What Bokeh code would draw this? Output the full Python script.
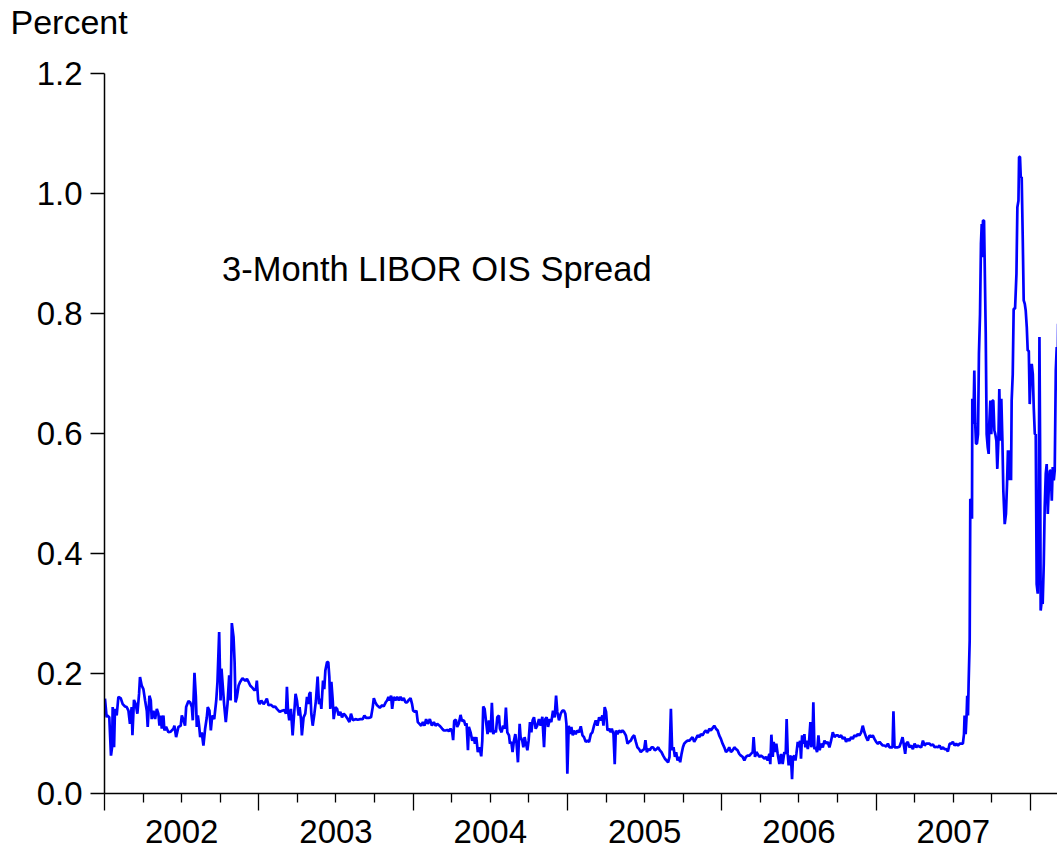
from bokeh.plotting import figure
from bokeh.models import Range1d, FixedTicker, LinearAxis, Label, NumeralTickFormatter
from bokeh.embed import file_html
from bokeh.resources import INLINE

# ---- data: 3-month LIBOR-OIS spread (percent), time in decimal years ----
t_2002 = [2002.003, 2002.014, 2002.018, 2002.031, 2002.042, 2002.049, 2002.053, 2002.062, 2002.068, 2002.079,
          2002.090, 2002.105, 2002.118, 2002.133, 2002.144, 2002.155, 2002.165, 2002.176, 2002.181, 2002.191,
          2002.202, 2002.213, 2002.224, 2002.230, 2002.241, 2002.252, 2002.263, 2002.274, 2002.280, 2002.291,
          2002.300, 2002.306, 2002.317, 2002.328, 2002.339, 2002.349, 2002.356, 2002.364, 2002.371, 2002.382,
          2002.388, 2002.399, 2002.414, 2002.429, 2002.447, 2002.453, 2002.464, 2002.479, 2002.494, 2002.501,
          2002.512, 2002.522, 2002.529, 2002.544, 2002.555, 2002.566, 2002.572, 2002.583, 2002.592, 2002.598,
          2002.605, 2002.613, 2002.620, 2002.630, 2002.641, 2002.652, 2002.663, 2002.669, 2002.680, 2002.689,
          2002.698, 2002.711, 2002.724, 2002.732, 2002.743, 2002.752, 2002.758, 2002.767, 2002.775, 2002.786,
          2002.797, 2002.808, 2002.817, 2002.825, 2002.836, 2002.843, 2002.849, 2002.858, 2002.869, 2002.879,
          2002.894, 2002.912, 2002.923, 2002.933, 2002.944, 2002.959, 2002.972, 2002.981, 2002.987, 2002.996,
          2003.005, 2003.016, 2003.031, 2003.042, 2003.052, 2003.063, 2003.078, 2003.091]
v_2002 = [0.158, 0.127, 0.130, 0.127, 0.063, 0.077, 0.144, 0.077, 0.141, 0.130,
          0.161, 0.159, 0.149, 0.145, 0.144, 0.138, 0.116, 0.144, 0.097, 0.156,
          0.149, 0.133, 0.166, 0.194, 0.180, 0.174, 0.155, 0.138, 0.111, 0.163,
          0.155, 0.124, 0.138, 0.124, 0.141, 0.133, 0.113, 0.130, 0.108, 0.130,
          0.105, 0.111, 0.102, 0.103, 0.108, 0.113, 0.094, 0.111, 0.113, 0.130,
          0.122, 0.113, 0.144, 0.154, 0.152, 0.144, 0.122, 0.201, 0.161, 0.111,
          0.130, 0.113, 0.094, 0.102, 0.080, 0.108, 0.127, 0.144, 0.138, 0.105,
          0.130, 0.124, 0.155, 0.186, 0.269, 0.155, 0.208, 0.177, 0.149, 0.119,
          0.149, 0.197, 0.155, 0.284, 0.261, 0.219, 0.152, 0.161, 0.180, 0.186,
          0.192, 0.188, 0.191, 0.186, 0.180, 0.176, 0.172, 0.174, 0.188, 0.155,
          0.149, 0.155, 0.149, 0.153, 0.158, 0.147, 0.148, 0.145]

t_2003 = [2003.096, 2003.106, 2003.117, 2003.135, 2003.150, 2003.165, 2003.176, 2003.182, 2003.189, 2003.197,
          2003.208, 2003.219, 2003.228, 2003.238, 2003.247, 2003.258, 2003.264, 2003.273, 2003.279, 2003.290,
          2003.301, 2003.312, 2003.321, 2003.327, 2003.334, 2003.340, 2003.349, 2003.360, 2003.370, 2003.381,
          2003.390, 2003.398, 2003.405, 2003.416, 2003.424, 2003.431, 2003.442, 2003.450, 2003.457, 2003.463,
          2003.470, 2003.479, 2003.485, 2003.496, 2003.507, 2003.517, 2003.528, 2003.539, 2003.550, 2003.561,
          2003.576, 2003.587, 2003.597, 2003.610, 2003.626, 2003.641, 2003.658, 2003.673, 2003.684, 2003.695,
          2003.712, 2003.727, 2003.738, 2003.745, 2003.755, 2003.766, 2003.784, 2003.799, 2003.809, 2003.822,
          2003.831, 2003.840, 2003.848, 2003.857, 2003.864, 2003.874, 2003.885, 2003.896, 2003.907, 2003.918,
          2003.928, 2003.939, 2003.950, 2003.961, 2003.972, 2003.983, 2003.993, 2004.000, 2004.011, 2004.021,
          2004.030, 2004.041, 2004.052, 2004.063, 2004.073, 2004.084, 2004.095, 2004.108, 2004.121, 2004.134,
          2004.145, 2004.156, 2004.171]
v_2003 = [0.144, 0.145, 0.141, 0.136, 0.138, 0.139, 0.133, 0.178, 0.138, 0.122,
          0.141, 0.097, 0.130, 0.166, 0.155, 0.130, 0.144, 0.124, 0.097, 0.127,
          0.133, 0.161, 0.149, 0.166, 0.169, 0.133, 0.113, 0.133, 0.155, 0.195,
          0.149, 0.158, 0.141, 0.188, 0.174, 0.205, 0.219, 0.219, 0.194, 0.141,
          0.186, 0.155, 0.124, 0.144, 0.141, 0.130, 0.136, 0.127, 0.133, 0.130,
          0.124, 0.119, 0.133, 0.122, 0.124, 0.123, 0.124, 0.124, 0.130, 0.126,
          0.126, 0.127, 0.144, 0.159, 0.152, 0.147, 0.143, 0.147, 0.145, 0.152,
          0.155, 0.161, 0.155, 0.163, 0.141, 0.161, 0.155, 0.161, 0.155, 0.161,
          0.155, 0.159, 0.152, 0.152, 0.156, 0.159, 0.149, 0.138, 0.136, 0.138,
          0.119, 0.116, 0.113, 0.119, 0.113, 0.124, 0.116, 0.124, 0.113, 0.119,
          0.113, 0.116, 0.113]

t_2004 = [2004.188, 2004.199, 2004.210, 2004.221, 2004.231, 2004.242, 2004.253, 2004.259, 2004.266, 2004.277,
          2004.285, 2004.296, 2004.307, 2004.316, 2004.329, 2004.339, 2004.346, 2004.355, 2004.361, 2004.372,
          2004.383, 2004.394, 2004.400, 2004.409, 2004.419, 2004.430, 2004.441, 2004.448, 2004.454, 2004.463,
          2004.474, 2004.482, 2004.491, 2004.502, 2004.510, 2004.519, 2004.528, 2004.536, 2004.545, 2004.556,
          2004.562, 2004.573, 2004.582, 2004.593, 2004.601, 2004.610, 2004.621, 2004.627, 2004.636, 2004.644,
          2004.653, 2004.662, 2004.670, 2004.679, 2004.690, 2004.696, 2004.707, 2004.714, 2004.722, 2004.731,
          2004.740, 2004.748, 2004.757, 2004.766, 2004.774, 2004.783, 2004.794, 2004.804, 2004.815, 2004.826,
          2004.837, 2004.848, 2004.856, 2004.865, 2004.874, 2004.885, 2004.895, 2004.906, 2004.917, 2004.926,
          2004.934, 2004.945, 2004.956, 2004.967, 2004.978, 2004.986, 2004.993, 2004.999, 2005.008, 2005.017,
          2005.025, 2005.034, 2005.042, 2005.053, 2005.064, 2005.075, 2005.086, 2005.097, 2005.107, 2005.118,
          2005.129, 2005.140, 2005.151, 2005.161, 2005.172, 2005.183, 2005.194, 2005.205, 2005.216, 2005.226,
          2005.233, 2005.241, 2005.250, 2005.259, 2005.270]
v_2004 = [0.108, 0.105, 0.105, 0.106, 0.104, 0.108, 0.102, 0.089, 0.121, 0.123,
          0.111, 0.117, 0.131, 0.121, 0.122, 0.113, 0.117, 0.072, 0.111, 0.102,
          0.088, 0.094, 0.083, 0.094, 0.069, 0.077, 0.062, 0.088, 0.145, 0.141,
          0.116, 0.099, 0.122, 0.102, 0.151, 0.099, 0.105, 0.102, 0.127, 0.130,
          0.108, 0.102, 0.113, 0.108, 0.143, 0.102, 0.097, 0.083, 0.086, 0.069,
          0.088, 0.099, 0.083, 0.052, 0.116, 0.094, 0.088, 0.077, 0.094, 0.083,
          0.072, 0.088, 0.119, 0.102, 0.122, 0.127, 0.108, 0.113, 0.124, 0.113,
          0.128, 0.077, 0.124, 0.127, 0.111, 0.124, 0.119, 0.138, 0.127, 0.163,
          0.136, 0.122, 0.133, 0.138, 0.138, 0.133, 0.116, 0.033, 0.113, 0.099,
          0.111, 0.097, 0.105, 0.099, 0.105, 0.102, 0.112, 0.097, 0.094, 0.086,
          0.088, 0.086, 0.099, 0.102, 0.113, 0.122, 0.113, 0.127, 0.122, 0.130,
          0.113, 0.144, 0.136, 0.105, 0.108]

t_2005 = [2005.280, 2005.287, 2005.298, 2005.306, 2005.313, 2005.324, 2005.334, 2005.345, 2005.356, 2005.367,
          2005.378, 2005.389, 2005.399, 2005.410, 2005.421, 2005.432, 2005.443, 2005.453, 2005.464, 2005.475,
          2005.486, 2005.497, 2005.505, 2005.514, 2005.523, 2005.533, 2005.544, 2005.555, 2005.566, 2005.577,
          2005.588, 2005.598, 2005.609, 2005.620, 2005.631, 2005.642, 2005.652, 2005.661, 2005.670, 2005.678,
          2005.687, 2005.696, 2005.704, 2005.713, 2005.722, 2005.730, 2005.739, 2005.748, 2005.756, 2005.767,
          2005.778, 2005.789, 2005.800, 2005.810, 2005.821, 2005.832, 2005.843, 2005.854, 2005.864, 2005.875,
          2005.886, 2005.897, 2005.908, 2005.919, 2005.929, 2005.940, 2005.951, 2005.962, 2005.973, 2005.983,
          2005.994, 2006.005, 2006.016, 2006.027, 2006.038, 2006.048, 2006.059, 2006.070, 2006.081, 2006.092,
          2006.102, 2006.113, 2006.124, 2006.135, 2006.146, 2006.156, 2006.167, 2006.178, 2006.189, 2006.200,
          2006.206, 2006.215, 2006.224, 2006.232, 2006.243, 2006.254, 2006.265, 2006.275, 2006.286, 2006.297,
          2006.308, 2006.314, 2006.321, 2006.330, 2006.336, 2006.345, 2006.353, 2006.362, 2006.373]
v_2005 = [0.102, 0.108, 0.099, 0.049, 0.105, 0.099, 0.105, 0.102, 0.105, 0.102,
          0.097, 0.083, 0.086, 0.088, 0.094, 0.097, 0.086, 0.077, 0.074, 0.069,
          0.072, 0.074, 0.089, 0.069, 0.074, 0.072, 0.077, 0.077, 0.072, 0.074,
          0.077, 0.072, 0.069, 0.063, 0.058, 0.055, 0.052, 0.061, 0.141, 0.072,
          0.077, 0.061, 0.069, 0.055, 0.061, 0.052, 0.066, 0.077, 0.083, 0.086,
          0.088, 0.088, 0.091, 0.094, 0.086, 0.091, 0.097, 0.094, 0.099, 0.097,
          0.102, 0.105, 0.101, 0.108, 0.105, 0.109, 0.113, 0.108, 0.105, 0.097,
          0.091, 0.083, 0.077, 0.069, 0.072, 0.077, 0.069, 0.072, 0.077, 0.074,
          0.072, 0.066, 0.063, 0.061, 0.055, 0.061, 0.063, 0.063, 0.066, 0.069,
          0.094, 0.061, 0.069, 0.066, 0.061, 0.063, 0.061, 0.058, 0.061, 0.055,
          0.066, 0.049, 0.098, 0.061, 0.086, 0.069, 0.083, 0.066, 0.049]

t_2006 = [2006.384, 2006.394, 2006.405, 2006.414, 2006.420, 2006.427, 2006.433, 2006.442, 2006.448, 2006.455,
          2006.461, 2006.470, 2006.477, 2006.483, 2006.492, 2006.498, 2006.507, 2006.513, 2006.520, 2006.528,
          2006.535, 2006.541, 2006.548, 2006.557, 2006.565, 2006.574, 2006.580, 2006.587, 2006.593, 2006.600,
          2006.608, 2006.617, 2006.626, 2006.634, 2006.643, 2006.654, 2006.665, 2006.676, 2006.686, 2006.697,
          2006.708, 2006.719, 2006.730, 2006.740, 2006.751, 2006.762, 2006.773, 2006.784, 2006.795, 2006.805,
          2006.816, 2006.827, 2006.838, 2006.849, 2006.859, 2006.870, 2006.881, 2006.892, 2006.903, 2006.913,
          2006.924, 2006.935, 2006.946, 2006.957, 2006.968, 2006.978, 2006.989, 2007.000, 2007.011, 2007.022,
          2007.032, 2007.043, 2007.054, 2007.065, 2007.076, 2007.087, 2007.097, 2007.106, 2007.112, 2007.119,
          2007.130, 2007.141, 2007.151, 2007.162, 2007.171, 2007.180, 2007.188, 2007.195, 2007.205, 2007.216,
          2007.227, 2007.238, 2007.249, 2007.260, 2007.270, 2007.281, 2007.292, 2007.303, 2007.314, 2007.324,
          2007.335, 2007.346, 2007.357, 2007.368, 2007.379, 2007.389, 2007.400, 2007.411, 2007.422, 2007.433,
          2007.443, 2007.454, 2007.465, 2007.476, 2007.487, 2007.497, 2007.508, 2007.519, 2007.530, 2007.541,
          2007.552]
v_2006 = [0.066, 0.049, 0.069, 0.066, 0.124, 0.066, 0.047, 0.063, 0.061, 0.024,
          0.061, 0.063, 0.055, 0.066, 0.086, 0.077, 0.088, 0.058, 0.097, 0.083,
          0.099, 0.077, 0.088, 0.074, 0.086, 0.119, 0.077, 0.086, 0.152, 0.074,
          0.077, 0.069, 0.097, 0.072, 0.083, 0.077, 0.088, 0.083, 0.086, 0.077,
          0.088, 0.102, 0.094, 0.097, 0.097, 0.094, 0.097, 0.091, 0.094, 0.086,
          0.091, 0.088, 0.094, 0.091, 0.097, 0.095, 0.099, 0.097, 0.102, 0.113,
          0.102, 0.094, 0.088, 0.097, 0.094, 0.097, 0.091, 0.086, 0.083, 0.086,
          0.083, 0.080, 0.080, 0.078, 0.083, 0.077, 0.077, 0.077, 0.137, 0.077,
          0.077, 0.077, 0.078, 0.086, 0.094, 0.080, 0.066, 0.083, 0.086, 0.077,
          0.080, 0.074, 0.083, 0.077, 0.080, 0.078, 0.077, 0.088, 0.080, 0.083,
          0.083, 0.083, 0.080, 0.082, 0.077, 0.078, 0.077, 0.080, 0.074, 0.077,
          0.074, 0.074, 0.070, 0.083, 0.083, 0.086, 0.080, 0.083, 0.080, 0.083,
          0.083]

t_2007 = [2007.562, 2007.569, 2007.573, 2007.580, 2007.586, 2007.590, 2007.595, 2007.599, 2007.606, 2007.610,
          2007.617, 2007.621, 2007.623, 2007.630, 2007.636, 2007.642, 2007.647, 2007.653, 2007.660, 2007.666,
          2007.673, 2007.679, 2007.684, 2007.688, 2007.692, 2007.699, 2007.703, 2007.710, 2007.716, 2007.723,
          2007.729, 2007.733, 2007.740, 2007.746, 2007.753, 2007.759, 2007.766, 2007.772, 2007.779, 2007.785,
          2007.792, 2007.798, 2007.805, 2007.811, 2007.818, 2007.824, 2007.833, 2007.841, 2007.848, 2007.854,
          2007.861, 2007.867, 2007.874, 2007.878, 2007.885, 2007.891, 2007.900, 2007.909, 2007.915, 2007.922,
          2007.926, 2007.932, 2007.937, 2007.943, 2007.950, 2007.956, 2007.963, 2007.969, 2007.976, 2007.982,
          2007.989, 2007.995, 2008.002, 2008.008, 2008.015, 2008.021, 2008.028, 2008.034, 2008.040, 2008.047,
          2008.053, 2008.058, 2008.062, 2008.066, 2008.073, 2008.079, 2008.086, 2008.092, 2008.099, 2008.105,
          2008.112, 2008.118, 2008.125, 2008.131, 2008.138, 2008.144, 2008.151, 2008.157, 2008.164, 2008.170,
          2008.175, 2008.179]
v_2007 = [0.083, 0.099, 0.130, 0.099, 0.130, 0.163, 0.130, 0.183, 0.255, 0.491,
          0.488, 0.458, 0.658, 0.616, 0.705, 0.616, 0.583, 0.583, 0.599, 0.733,
          0.799, 0.916, 0.949, 0.894, 0.955, 0.955, 0.888, 0.766, 0.599, 0.577,
          0.566, 0.616, 0.655, 0.599, 0.655, 0.655, 0.605, 0.599, 0.588, 0.541,
          0.588, 0.674, 0.588, 0.658, 0.588, 0.505, 0.449, 0.466, 0.516, 0.572,
          0.522, 0.572, 0.522, 0.655, 0.699, 0.808, 0.808, 0.866, 0.977, 0.988,
          1.061, 1.061, 1.027, 1.027, 0.922, 0.822, 0.816, 0.805, 0.777, 0.738,
          0.738, 0.649, 0.699, 0.716, 0.699, 0.644, 0.599, 0.599, 0.349, 0.333,
          0.449, 0.761, 0.588, 0.305, 0.322, 0.316, 0.383, 0.477, 0.533, 0.549,
          0.466, 0.505, 0.538, 0.538, 0.488, 0.544, 0.522, 0.538, 0.705, 0.744,
          0.672, 0.783]

year_ticks = [2002, 2003, 2004, 2005, 2006, 2007, 2008]
year_labels = ["2002", "2003", "2004", "2005", "2006", "2007"]
y_ticks = [0.0, 0.2, 0.4, 0.6, 0.8, 1.0, 1.2]
series_title = "3-Month LIBOR OIS Spread"
unit_label = "Percent"

t = t_2002 + t_2003 + t_2004 + t_2005 + t_2006 + t_2007
v = v_2002 + v_2003 + v_2004 + v_2005 + v_2006 + v_2007

FONT = "Liberation Sans"
FS = "33px"
SHIFT = 30  # canvas is lifted by this many pixels so the unit label can sit higher

p = figure(width=1057, height=866 + SHIFT, output_backend="svg", toolbar_location=None,
           x_range=Range1d(2002.0, 2008.175), y_range=Range1d(0.0, 1.2),
           x_axis_type=None, y_axis_type=None,
           min_border_left=104, min_border_right=0, min_border_top=73 + SHIFT,
           min_border_bottom=73, title=unit_label,
           styles={"position": "relative", "top": f"-{SHIFT}px"})
p.outline_line_color = None
p.background_fill_color = "white"
p.border_fill_color = "white"

# unit label shown as a left-aligned title above the y axis
p.title.align = "left"
p.title.vertical_align = "top"
p.title.offset = -94
p.title.standoff = 62
p.title.text_font = FONT
p.title.text_font_size = "34px"
p.title.text_font_style = "normal"
p.title.text_color = "black"

p.line(t, v, line_color="#0000FF", line_width=2.7)

# y axis
yax = LinearAxis(ticker=FixedTicker(ticks=y_ticks, minor_ticks=[]),
                 formatter=NumeralTickFormatter(format="0.0"))
yax.major_tick_out = 14
yax.major_tick_in = 0
yax.minor_tick_out = 0
yax.major_label_standoff = 8
yax.major_label_text_font = FONT
yax.major_label_text_font_size = FS
yax.major_label_text_color = "black"
yax.axis_line_color = "black"
yax.axis_line_width = 1.5
yax.major_tick_line_width = 1.3
p.add_layout(yax, "left")

# x axis: tick marks (years major, quarters minor)
quarters = [y + q / 4 for y in year_ticks for q in range(1, 4)]
xax = LinearAxis(ticker=FixedTicker(ticks=year_ticks, minor_ticks=quarters))
xax.major_tick_out = 17
xax.major_tick_in = 0
xax.minor_tick_out = 9
xax.minor_tick_in = 0
xax.major_label_text_font_size = "0px"
xax.major_label_text_alpha = 0
xax.major_label_standoff = 0
xax.axis_line_color = "black"
xax.axis_line_width = 1.5
xax.major_tick_line_width = 1.3
xax.minor_tick_line_width = 1.3
p.add_layout(xax, "below")

# x axis: year labels centred within each year
mids = [int(s) + 0.5 for s in year_labels]
xlab = LinearAxis(ticker=FixedTicker(ticks=mids, minor_ticks=[]),
                  major_label_overrides={m: s for m, s in zip(mids, year_labels)})
xlab.axis_line_color = None
xlab.major_tick_line_color = None
xlab.minor_tick_line_color = None
xlab.major_tick_out = 0
xlab.major_tick_in = 0
xlab.minor_tick_out = 0
xlab.major_label_standoff = 9
xlab.major_label_text_font = FONT
xlab.major_label_text_font_size = FS
xlab.major_label_text_color = "black"
p.add_layout(xlab, "below")

p.add_layout(Label(x=2002.762, y=0.875, text=series_title, text_font=FONT,
                   text_font_size="34.5px", text_color="black", text_baseline="middle"))

open("out.html", "w").write(file_html(p, INLINE))
